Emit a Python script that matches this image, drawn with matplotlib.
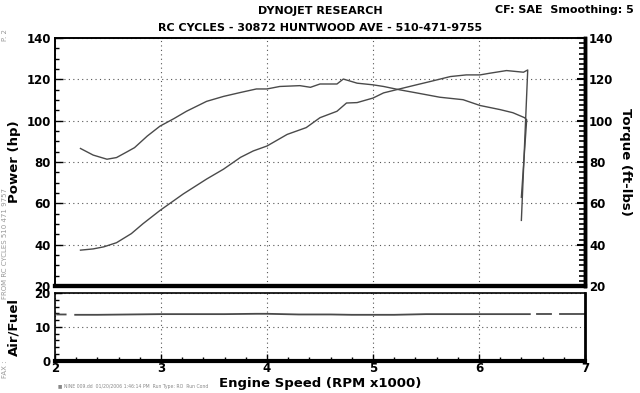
import matplotlib
matplotlib.use("Agg")
import matplotlib.pyplot as plt
import numpy as np
from matplotlib.ticker import MultipleLocator

# engine speed in RPM x1000
rpm_power = [2.24, 2.36, 2.46, 2.58, 2.72, 2.83, 2.99, 3.21, 3.43, 3.59, 3.75, 3.87, 4.00,
             4.19, 4.37, 4.50, 4.66, 4.75, 4.85, 5.00, 5.10, 5.25, 5.41, 5.54, 5.73, 5.88,
             6.01, 6.10, 6.26, 6.42, 6.46, 6.40]
power = [37.4, 38.0, 39.0, 41.0, 45.4, 50.2, 56.6, 64.6, 71.8, 76.6, 82.3, 85.4, 87.8,
         93.4, 96.7, 101.5, 104.6, 108.6, 108.8, 111.0, 113.5, 115.4, 117.4, 119.0, 121.4, 122.2,
         122.2, 123.0, 124.3, 123.5, 124.6, 51.8]

rpm_torque = [2.24, 2.36, 2.49, 2.58, 2.68, 2.75, 2.87, 2.99, 3.12, 3.24, 3.43, 3.59, 3.75,
              3.90, 4.00, 4.12, 4.31, 4.41, 4.50, 4.66, 4.72, 4.85, 5.00, 5.10, 5.25, 5.41,
              5.63, 5.85, 6.01, 6.20, 6.32, 6.43, 6.45, 6.40]
torque = [86.6, 83.4, 81.4, 82.2, 85.0, 87.0, 92.6, 97.4, 101.0, 104.6, 109.4, 111.8, 113.7,
          115.4, 115.4, 116.6, 117.0, 116.2, 117.8, 117.8, 120.2, 118.2, 117.4, 116.6, 115.0, 113.5,
          111.4, 110.2, 107.4, 105.4, 103.9, 101.5, 100.5, 63.0]

rpm_af = [2.02, 2.10, 2.14, 2.19, 2.40, 2.70, 3.00, 3.30, 3.60, 3.90, 4.00, 4.30, 4.60,
          4.80, 5.00, 5.20, 5.50, 5.80, 6.00, 6.30, 6.48]
air_fuel = [13.7, 13.7, np.nan, 13.6, 13.6, 13.7, 13.8, 13.8, 13.8, 13.9, 13.9, 13.7, 13.7,
            13.6, 13.6, 13.6, 13.8, 13.8, 13.8, 13.8, 13.8]
rpm_af_tail = [6.55, 6.68, np.nan, 6.76, 7.0]
air_fuel_tail = [13.8, 13.8, np.nan, 13.8, 13.8]

x_ticks = [2, 3, 4, 5, 6, 7]
top_ticks = [20, 40, 60, 80, 100, 120, 140]

line_col = "#4a4a4a"
grid_kw = dict(color="#555555", linestyle=(0, (1, 3)), linewidth=0.8)

fig = plt.figure(figsize=(6.4, 3.93), dpi=100)
fig.patch.set_facecolor("white")

ax = fig.add_axes([0.086, 0.272, 0.828, 0.631])
ax2 = ax.twinx()
ax.plot(rpm_power, power, color=line_col, lw=1.0)
ax2.plot(rpm_torque, torque, color=line_col, lw=1.0)

for a in (ax, ax2):
    a.set_xlim(2, 7)
    a.set_ylim(20, 140)
    a.set_yticks(top_ticks)
ax.set_xticks(x_ticks)
ax.tick_params(axis="x", labelbottom=False, length=0)
ax.yaxis.set_minor_locator(MultipleLocator(5))
ax2.yaxis.set_minor_locator(MultipleLocator(2.5))
ax.tick_params(axis="y", which="major", direction="in", length=6, width=1, labelsize=8.5, pad=3)
ax.tick_params(axis="y", which="minor", direction="in", length=3, width=1)
ax2.tick_params(axis="y", which="major", direction="in", length=6, width=1.5, labelsize=8.5, pad=3)
ax2.tick_params(axis="y", which="minor", direction="in", length=4, width=1.2)
for lab in ax.get_yticklabels() + ax2.get_yticklabels():
    lab.set_fontweight("bold")
ax.grid(True, **grid_kw)
for sp, w in (("left", 1.2), ("top", 1.2), ("right", 2.5), ("bottom", 3.0)):
    ax.spines[sp].set_linewidth(w)
    ax2.spines[sp].set_linewidth(w)
ax.set_ylabel("Power (hp)", fontsize=9.5, fontweight="bold", labelpad=4)
ax2.set_ylabel("Torque (ft-lbs)", fontsize=9.5, fontweight="bold", rotation=270, labelpad=13)

bx = fig.add_axes([0.086, 0.082, 0.828, 0.172])
bx.plot(rpm_af, air_fuel, color=line_col, lw=1.3)
bx.plot(rpm_af_tail, air_fuel_tail, color=line_col, lw=1.3)
bx.set_xlim(2, 7)
bx.set_ylim(0, 20)
bx.set_xticks(x_ticks)
bx.set_yticks([0, 10, 20])
bx.xaxis.set_minor_locator(MultipleLocator(0.2))
bx.yaxis.set_minor_locator(MultipleLocator(2))
bx.tick_params(which="major", direction="in", length=5, width=1, labelsize=8.5, pad=1)
bx.tick_params(which="minor", direction="in", length=3, width=1)
bx.tick_params(axis="y", right=False, pad=3)
for lab in bx.get_xticklabels() + bx.get_yticklabels():
    lab.set_fontweight("bold")
bx.grid(True, **grid_kw)
for sp, w in (("left", 1.2), ("top", 1.2), ("right", 2.0), ("bottom", 3.0)):
    bx.spines[sp].set_linewidth(w)
bx.set_ylabel("Air/Fuel", fontsize=9.5, fontweight="bold", labelpad=10)
bx.set_xlabel("Engine Speed (RPM x1000)", fontsize=9.5, fontweight="bold", labelpad=1)

# header text
fig.text(0.5, 0.972, "DYNOJET RESEARCH", ha="center", va="center", fontsize=8, fontweight="bold")
fig.text(0.5, 0.93, "RC CYCLES - 30872 HUNTWOOD AVE - 510-471-9755", ha="center", va="center",
         fontsize=8, fontweight="bold")
fig.text(0.99, 0.975, "CF: SAE  Smoothing: 5", ha="right", va="center", fontsize=8, fontweight="bold")

# fax header and footer remnants
fig.text(0.008, 0.91, "P. 2", rotation=90, ha="center", va="center", fontsize=5, color="#999999")
fig.text(0.008, 0.38, "FROM RC CYCLES 510 471 9757", rotation=90, ha="center", va="center",
         fontsize=5, color="#999999")
fig.text(0.008, 0.06, "FAX :", rotation=90, ha="center", va="center", fontsize=5, color="#999999")
fig.text(0.09, 0.016, "\u25a0 NINE 009.dd  01/20/2006 1:46:14 PM  Run Type: RO  Run Cond",
         ha="left", va="center", fontsize=3.3, color="#888888")

fig.savefig("out.png", dpi=100, facecolor="white")
